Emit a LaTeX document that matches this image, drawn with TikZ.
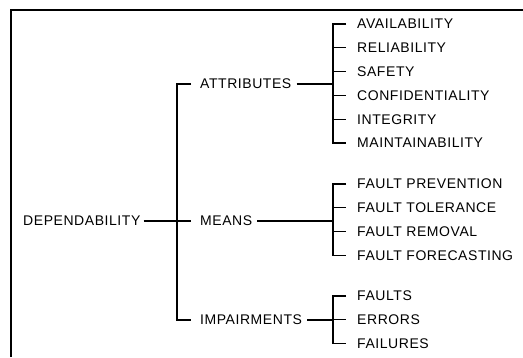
\documentclass[tikz,border=0pt]{standalone}
\usepackage{fontspec}
\setmainfont{Liberation Sans}
\newfontfamily\treefont[LetterSpace=4]{Liberation Sans}
\usepackage{tikz}
\usetikzlibrary{positioning}

\begin{document}
\begin{tikzpicture}[x=1pt, y=-1pt,
        lbl/.style={anchor=west, inner sep=0pt, font=\treefont\fontsize{14}{16}\selectfont},
        br/.style={line width=1.3pt},
        frm/.style={line width=1.5pt}
    ]
        \useasboundingbox (0,0) rectangle (523,357);
        \draw[frm] (11,357) -- (11,10) -- (523,10);
        % main branch
        \node[lbl] (dep) at (23,221) {DEPENDABILITY};
        \node[lbl] (attr) at (200,84) {ATTRIBUTES};
        \node[lbl] (means) at (200,221) {MEANS};
        \node[lbl] (imp) at (200,320) {IMPAIRMENTS};
        % leaves
        \foreach \t [count=\i] in {AVAILABILITY, RELIABILITY, SAFETY, CONFIDENTIALITY, INTEGRITY, MAINTAINABILITY}
            \node[lbl] (a\i) at (357,{24+23.8*(\i-1)}) {\t};
        \foreach \t [count=\i] in {FAULT PREVENTION, FAULT TOLERANCE, FAULT REMOVAL, FAULT FORECASTING}
            \node[lbl] (m\i) at (357,{184+23.8*(\i-1)}) {\t};
        \foreach \t [count=\i] in {FAULTS, ERRORS, FAILURES}
            \node[lbl] (f\i) at (357,{296+23.8*(\i-1)}) {\t};
        \coordinate (tr) at ([xshift=-23pt]attr.west);
        \coordinate (jb) at ([xshift=-24pt]a1.west);
        % trunk
        \draw[br] ([xshift=-9pt]attr.west) -- (tr) -- (tr |- imp.west) -- ([xshift=-9pt]imp.west);
        \draw[br] ([xshift=3pt]dep.east) -- ([xshift=-9pt]means.west);
        % brackets
        \draw[br] ([xshift=5pt]attr.east) -- (jb |- attr.east);
        \draw[br] ([xshift=5pt]means.east) -- (jb |- means.east);
        \draw[br] ([xshift=5pt]imp.east) -- (jb |- imp.east);
        \draw[br] ([xshift=-11pt]a1.west) -- (jb |- a1.west) -- (jb |- a6.west) -- ([xshift=-11pt]a6.west);
        \draw[br] ([xshift=-11pt]m1.west) -- (jb |- m1.west) -- (jb |- m4.west) -- ([xshift=-11pt]m4.west);
        \draw[br] ([xshift=-11pt]f1.west) -- (jb |- f1.west) -- (jb |- f3.west) -- ([xshift=-11pt]f3.west);
        \foreach \n in {a2,a3,a4,a5,m2,m3,f2}
            \draw[br] (jb |- \n.west) -- ([xshift=-11pt]\n.west);
\end{tikzpicture}
\end{document}
